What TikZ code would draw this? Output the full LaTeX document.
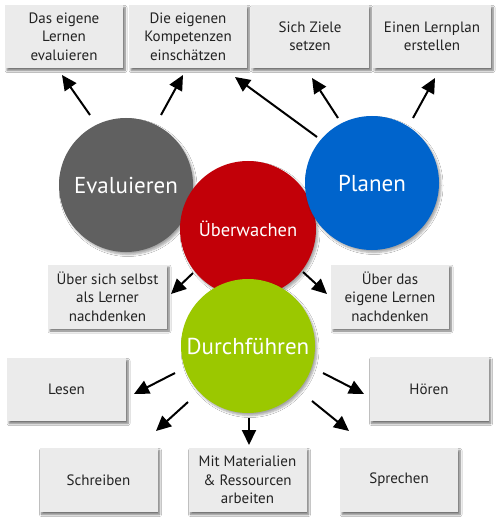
\documentclass[tikz,border=0pt]{standalone}
\usepackage{fontspec}
\setmainfont{PT Sans}
\usetikzlibrary{arrows.meta,shadows.blur}
\definecolor{cgray}{HTML}{606060}
\definecolor{cred}{HTML}{C20008}
\definecolor{cblue}{HTML}{0064CC}
\definecolor{cgreen}{HTML}{9BC800}
\definecolor{boxfill}{HTML}{EBEBEB}
\definecolor{boxtext}{HTML}{222222}
\tikzset{
  box/.style={rectangle, fill=boxfill, minimum width=118pt, minimum height=63pt,
    inner sep=2pt, align=center, text=boxtext, font=\fontsize{15}{18.5}\selectfont,
    blur shadow={shadow xshift=2pt, shadow yshift=-2.5pt, shadow blur steps=6, shadow opacity=55}},
  phase/.style={circle, minimum size=134pt, inner sep=0pt, text=white,
    font=\fontsize{23}{26}\selectfont,
    blur shadow={shadow xshift=2pt, shadow yshift=-2.5pt, shadow blur steps=6, shadow opacity=35}},
  arr/.style={-{Triangle[length=15pt,width=14pt]}, line width=2pt, black}
}
\begin{document}
\begin{tikzpicture}[x=1pt,y=-1pt]
\useasboundingbox[fill=white] (0,0) rectangle (500,521);
% top boxes
\node[box] (b1) at (64,36.5) {Das eigene\\Lernen\\evaluieren};
\node[box] (b2) at (188,36.5) {Die eigenen\\Kompetenzen\\einschätzen};
\node[box] (b3) at (310,36.5) {Sich Ziele\\setzen};
\node[box] (b4) at (432,36.5) {Einen Lernplan\\erstellen};
% middle boxes
\node[box, minimum width=119pt, minimum height=64pt] (m1) at (107.5,296.5) {Über sich selbst\\als Lerner\\nachdenken};
\node[box, minimum height=64pt] (m2) at (390,296.5) {Über das\\eigene Lernen\\nachdenken};
% bottom boxes
\node[box, minimum width=119pt] (lesen) at (66.5,389.5) {Lesen};
\node[box, minimum width=119pt, minimum height=64pt] (hoeren) at (429,389) {Hören};
\node[box, minimum height=64pt] (schreiben) at (98.5,480) {Schreiben};
\node[box, minimum height=64pt] (mit) at (247.5,480) {Mit Materialien\\\& Ressourcen\\arbeiten};
\node[box, minimum height=64pt] (sprechen) at (399,480) {Sprechen};
% circles
\node[phase, fill=cgray] (eval) at (126,185) {Evaluieren};
\node[phase, fill=cred, minimum size=136pt, font=\fontsize{18.5}{20}\selectfont] (uber) at (248,229) {Überwachen};
\node[phase, fill=cblue] (plan) at (372,183) {Planen};
\node[phase, fill=cgreen] (durch) at (248,346) {Durchführen};
% connector end points
\coordinate (e1s) at (90,115);  \coordinate (e1t) at (62,75);
\coordinate (e2s) at (161,115); \coordinate (e2t) at (183,75);
\coordinate (p1s) at (317,137); \coordinate (p1t) at (235,77);
\coordinate (p2s) at (338,118); \coordinate (p2t) at (312,78);
\coordinate (p3s) at (413,118); \coordinate (p3t) at (435,78);
\coordinate (u1s) at (193,273); \coordinate (u1t) at (171,294);
\coordinate (u2s) at (303,272); \coordinate (u2t) at (327,294);
\coordinate (d1s) at (175,373); \coordinate (d1t) at (134,394);
\coordinate (d2s) at (188,402); \coordinate (d2t) at (156,431);
\coordinate (d3s) at (249,418); \coordinate (d3t) at (249,445);
\coordinate (d4s) at (312,401); \coordinate (d4t) at (349,431);
\coordinate (d5s) at (323,373); \coordinate (d5t) at (364,394);
% connectors
\draw[arr] (e1s) -- (e1t);
\draw[arr] (e2s) -- (e2t);
\draw[arr] (p1s) -- (p1t);
\draw[arr] (p2s) -- (p2t);
\draw[arr] (p3s) -- (p3t);
\draw[arr] (u1s) -- (u1t);
\draw[arr] (u2s) -- (u2t);
\draw[arr] (d1s) -- (d1t);
\draw[arr] (d2s) -- (d2t);
\draw[arr] (d3s) -- (d3t);
\draw[arr] (d4s) -- (d4t);
\draw[arr] (d5s) -- (d5t);
\end{tikzpicture}
\end{document}
